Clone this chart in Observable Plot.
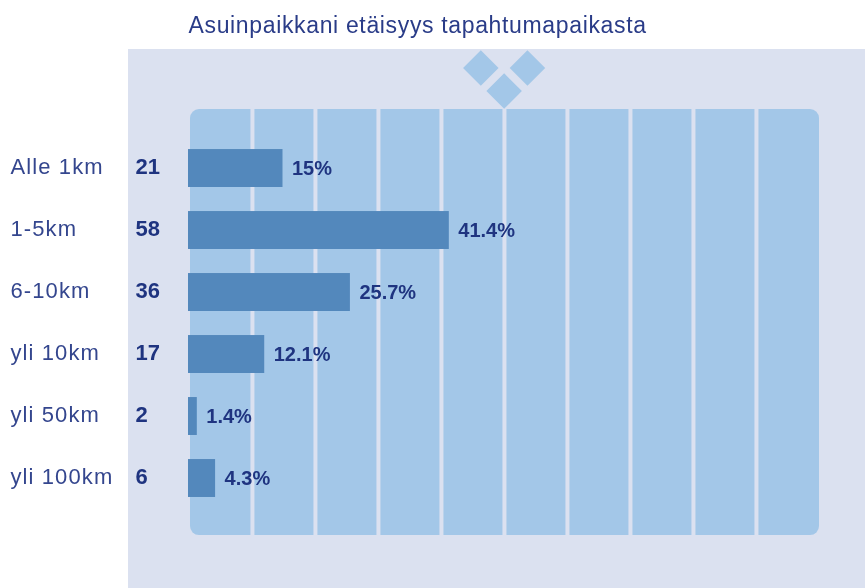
<!DOCTYPE html>
<html>
<head>
<meta charset="utf-8">
<script src="https://cdn.jsdelivr.net/npm/d3@7"></script>
<script src="https://cdn.jsdelivr.net/npm/@observablehq/plot@0.6"></script>
<style>
html,body{margin:0;padding:0;background:#fff}
svg{display:block;filter:blur(0.4px)}
</style>
</head>
<body>
<div id="chart"></div>
<script>
const titleText = "Asuinpaikkani etäisyys tapahtumapaikasta";
const categories = ["Alle 1km", "1-5km", "6-10km", "yli 10km", "yli 50km", "yli 100km"];
const counts = [21, 58, 36, 17, 2, 6];
const percents = [15, 41.4, 25.7, 12.1, 1.4, 4.3];
const percentLabels = ["15%", "41.4%", "25.7%", "12.1%", "1.4%", "4.3%"];
const gridTicks = [10, 20, 30, 40, 50, 60, 70, 80, 90];

const rows = categories.map((category, i) => ({
  category, row: i, count: counts[i], percent: percents[i], label: percentLabels[i]
}));

const ink = "#2a3c88";
const inkBold = "#1f3480";
const font = "'Liberation Sans', Arial, sans-serif";
const half = 0.306;

const chart = Plot.plot({
  width: 865,
  height: 588,
  margin: 0,
  style: {background: "#fff", fontFamily: font},
  x: {domain: [-29.84, 107.46], range: [0, 865], axis: null},
  y: {domain: [-2.71, 6.774], range: [0, 588], axis: null},
  marks: [
    Plot.rect([0], {x1: -9.52, x2: 107.46, y1: -1.92, y2: 6.774, fill: "#dbe1f0"}),
    Plot.rect([0], {x1: 0.32, x2: 100.16, y1: -0.95, y2: 5.92, fill: "#a3c7e8", rx: 9}),
    Plot.ruleX(gridTicks, {x: d => d + 0.15, y1: -0.95, y2: 5.92, stroke: "#dbe1f0", strokeWidth: 4}),
    Plot.dot([{x: 46.4, y: -1.62}, {x: 53.8, y: -1.62}, {x: 50.1, y: -1.25}], {
      x: "x", y: "y", symbol: "diamond2", r: 16, fill: "#a3c7e8", stroke: "none"
    }),
    Plot.rect(rows, {x1: 0, x2: "percent", y1: d => d.row - half, y2: d => d.row + half, fill: "#5388bc"}),
    Plot.text([titleText], {
      text: d => d, frameAnchor: "top-left", dx: 188, dy: 16, textAnchor: "start",
      fontSize: 23, fill: ink, fontFamily: font
    }),
    Plot.text(rows, {
      text: "category", y: "row", frameAnchor: "left", dx: 10, textAnchor: "start",
      fontSize: 22, fill: "#34468e", fontFamily: font, dy: -2
    }),
    Plot.text(rows, {
      text: "count", y: "row", frameAnchor: "left", dx: 135, textAnchor: "start",
      fontSize: 22, fontWeight: "bold", fill: inkBold, fontFamily: font, dy: -2
    }),
    Plot.text(rows, {
      text: "label", x: "percent", y: "row", dx: 9, textAnchor: "start",
      fontSize: 20, fontWeight: "bold", fill: inkBold, fontFamily: font
    })
  ]
});
const textGroups = d3.select(chart).selectAll("g[aria-label='text']");
d3.select(textGroups.nodes()[0]).selectAll("text").style("letter-spacing", "0.65px");
d3.select(textGroups.nodes()[1]).selectAll("text").style("letter-spacing", "1.1px");
document.getElementById("chart").appendChild(chart);
</script>
</body>
</html>
